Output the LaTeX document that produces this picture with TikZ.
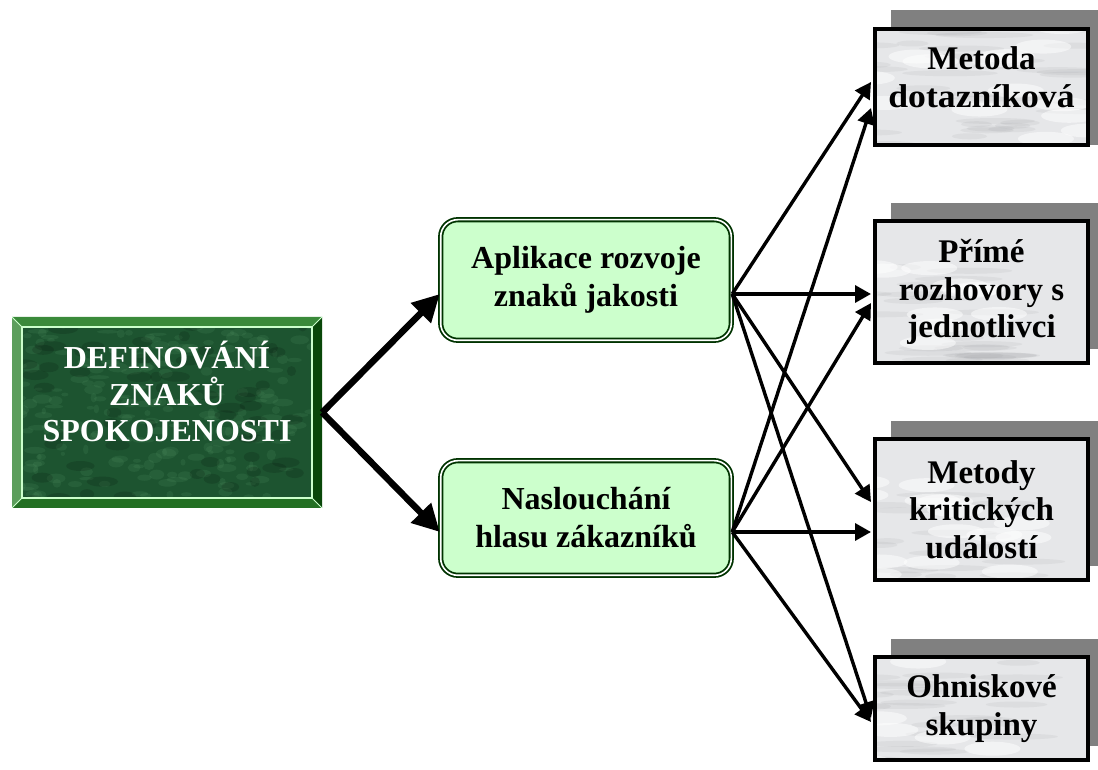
\documentclass[tikz,border=0pt]{standalone}
\usepackage{fontspec}
\setmainfont{Liberation Serif}
\usetikzlibrary{arrows.meta,calc}

\definecolor{mintfill}{HTML}{CCFFCC}
\definecolor{framegreen}{HTML}{003300}
\definecolor{shadowgray}{HTML}{808080}
\definecolor{marblebase}{HTML}{E6E7E9}
\definecolor{marblevein}{HTML}{9A9CA0}
\definecolor{jadebase}{HTML}{1D5430}
\definecolor{jadelight}{HTML}{4E8E60}
\definecolor{bevtop}{HTML}{3A8A3A}
\definecolor{bevleft}{HTML}{5C9E5C}
\definecolor{bevright}{HTML}{094709}
\definecolor{bevbottom}{HTML}{236F23}

\tikzset{
  % grey-white marble texture, clipped to the node outline
  marblegray/.style={path picture={
    \begin{scope}[shift={(path picture bounding box.center)}]
      \foreach \k in {1,...,40}{
        \pgfmathsetmacro\px{rand*115}
        \pgfmathsetmacro\py{rand*78}
        \pgfmathsetmacro\ang{18+rand*25}
        \pgfmathsetmacro\len{14+rnd*36}
        \fill[marblevein, opacity=0.13, rotate around={\ang:(\px,\py)}]
          (\px,\py) ellipse [x radius=\len pt, y radius=3pt];
      }
      \foreach \k in {1,...,16}{
        \pgfmathsetmacro\px{rand*115}
        \pgfmathsetmacro\py{rand*78}
        \pgfmathsetmacro\ang{20+rand*25}
        \fill[white, opacity=0.5, rotate around={\ang:(\px,\py)}]
          (\px,\py) ellipse [x radius=28pt, y radius=7pt];
      }
    \end{scope}}},
  % dark green marble with a bevelled frame
  jadeframe/.style={path picture={
    \begin{scope}[shift={(path picture bounding box.center)}]
      \foreach \k in {1,...,220}{
        \pgfmathsetmacro\px{rand*150}
        \pgfmathsetmacro\py{rand*90}
        \pgfmathsetmacro\ang{rand*180}
        \pgfmathsetmacro\ra{2+rnd*9}
        \pgfmathsetmacro\rb{1.5+rnd*4}
        \fill[jadelight, opacity=0.2, rotate around={\ang:(\px,\py)}]
          (\px,\py) ellipse [x radius=\ra pt, y radius=\rb pt];
      }
      \foreach \k in {1,...,60}{
        \pgfmathsetmacro\px{rand*150}
        \pgfmathsetmacro\py{rand*90}
        \pgfmathsetmacro\ang{rand*180}
        \pgfmathsetmacro\ra{4+rnd*12}
        \fill[black, opacity=0.14, rotate around={\ang:(\px,\py)}]
          (\px,\py) ellipse [x radius=\ra pt, y radius=5pt];
      }
      \fill[bevtop]    (-155,95.5) -- (155,95.5) -- (145,85.5) -- (-145,85.5) -- cycle;
      \fill[bevleft]   (-155,95.5) -- (-145,85.5) -- (-145,-85.5) -- (-155,-95.5) -- cycle;
      \fill[bevright]  (155,95.5) -- (155,-95.5) -- (145,-85.5) -- (145,85.5) -- cycle;
      \fill[bevbottom] (-155,-95.5) -- (155,-95.5) -- (145,-85.5) -- (-145,-85.5) -- cycle;
      \draw[white!80!green, line width=1.3pt] (-145,-85.5) rectangle (145,85.5);
      \draw[white!80!green, line width=0.8pt]
        (-155,95.5) -- (-145,85.5) (155,95.5) -- (145,85.5)
        (-155,-95.5) -- (-145,-85.5) (155,-95.5) -- (145,-85.5);
    \end{scope}}},
  sourcebox/.style={rectangle, fill=jadebase, minimum width=310pt,
    minimum height=191pt, inner sep=0pt, jadeframe},
  sourcetext/.style={text=white, align=center, font=\fontsize{32}{36.5}\selectfont\bfseries},
  midbox/.style={rectangle, rounded corners=17pt, fill=mintfill, draw=framegreen,
    line width=1.8pt, double=white, double distance=1.6pt, minimum width=290.6pt,
    align=center, inner sep=0pt, font=\fontsize{32}{38}\selectfont\bfseries},
  methodbox/.style={rectangle, fill=marblebase, draw=black, line width=4pt,
    minimum width=213pt, inner sep=0pt, align=center, marblegray,
    font=\fontsize{33}{37.5}\selectfont\bfseries},
  methodtext/.style={align=center, font=\fontsize{33}{37.5}\selectfont\bfseries},
  boxshadow/.style={fill=shadowgray},
  bigarrow/.style={line width=6.5pt, -{Triangle[length=27pt,width=27pt]}},
  linkarrow/.style={line width=3.4pt, -{Triangle[length=16pt,width=17pt]}},
}

\begin{document}
\begin{tikzpicture}[x=1pt,y=1pt]
\useasboundingbox (0,0) rectangle (1098,769);

% shadows behind the method boxes
\fill[boxshadow] (890.5,624) rectangle (1107.5,759);
\fill[boxshadow] (890.5,420) rectangle (1107.5,566);
\fill[boxshadow] (890.5,203) rectangle (1107.5,348);
\fill[boxshadow] (890.5,23) rectangle (1107.5,130);

% source box
\node[sourcebox] (L) at (167,356.5) {};
\node[sourcetext] (Ltxt) at ($(L.center)+(0,21)$) {DEFINOVÁNÍ\\ZNAKŮ\\SPOKOJENOSTI};

% two middle boxes
\node[midbox, minimum height=120.6pt] (A) at (586,489) {Aplikace rozvoje\\znaků jakosti};
\node[midbox, minimum height=114.6pt] (B) at (586,251) {Naslouchání\\hlasu zákazníků};

% four method boxes
\node[methodbox, minimum height=116pt] (R1) at (981.5,682) {};
\node[methodtext] (R1txt) at ($(R1.center)+(0,10)$) {Metoda\\\scalebox{1.08}[1]{dotazníková}};
\node[methodbox, minimum height=142pt] (R2) at (981.5,477) {Přímé\\rozhovory s\\jednotlivci};
\node[methodbox, minimum height=141pt] (R3) at (981.5,259.5) {Metody\\kritických\\událostí};
\node[methodbox, minimum height=103pt] (R4) at (981.5,60.5) {Ohniskové\\skupiny};

% thick arrows from the source box
\draw[bigarrow] (L.east) -- ($(A.west)+(0,-14)$);
\draw[bigarrow] (L.east) -- ($(B.west)+(0,-14)$);

% links from the first middle box
\draw[linkarrow] ($(A.east)+(0,-14)$) -- ($(R1.west)+(-2,5)$);
\draw[linkarrow] ($(A.east)+(0,-14)$) -- ($(R2.west)+(-2,-2)$);
\draw[linkarrow] ($(A.east)+(0,-14)$) -- ($(R3.west)+(-2,7.5)$);
\draw[linkarrow] ($(A.east)+(0,-14)$) -- ($(R4.west)+(-2,-9.5)$);

% links from the second middle box
\draw[linkarrow] ($(B.east)+(0,-14)$) -- ($(R1.west)+(-2,-21)$);
\draw[linkarrow] ($(B.east)+(0,-14)$) -- ($(R2.west)+(-2,-11)$);
\draw[linkarrow] ($(B.east)+(0,-14)$) -- ($(R3.west)+(-2,-22.5)$);
\draw[linkarrow] ($(B.east)+(0,-14)$) -- ($(R4.west)+(-2,-13.5)$);
\end{tikzpicture}
\end{document}
